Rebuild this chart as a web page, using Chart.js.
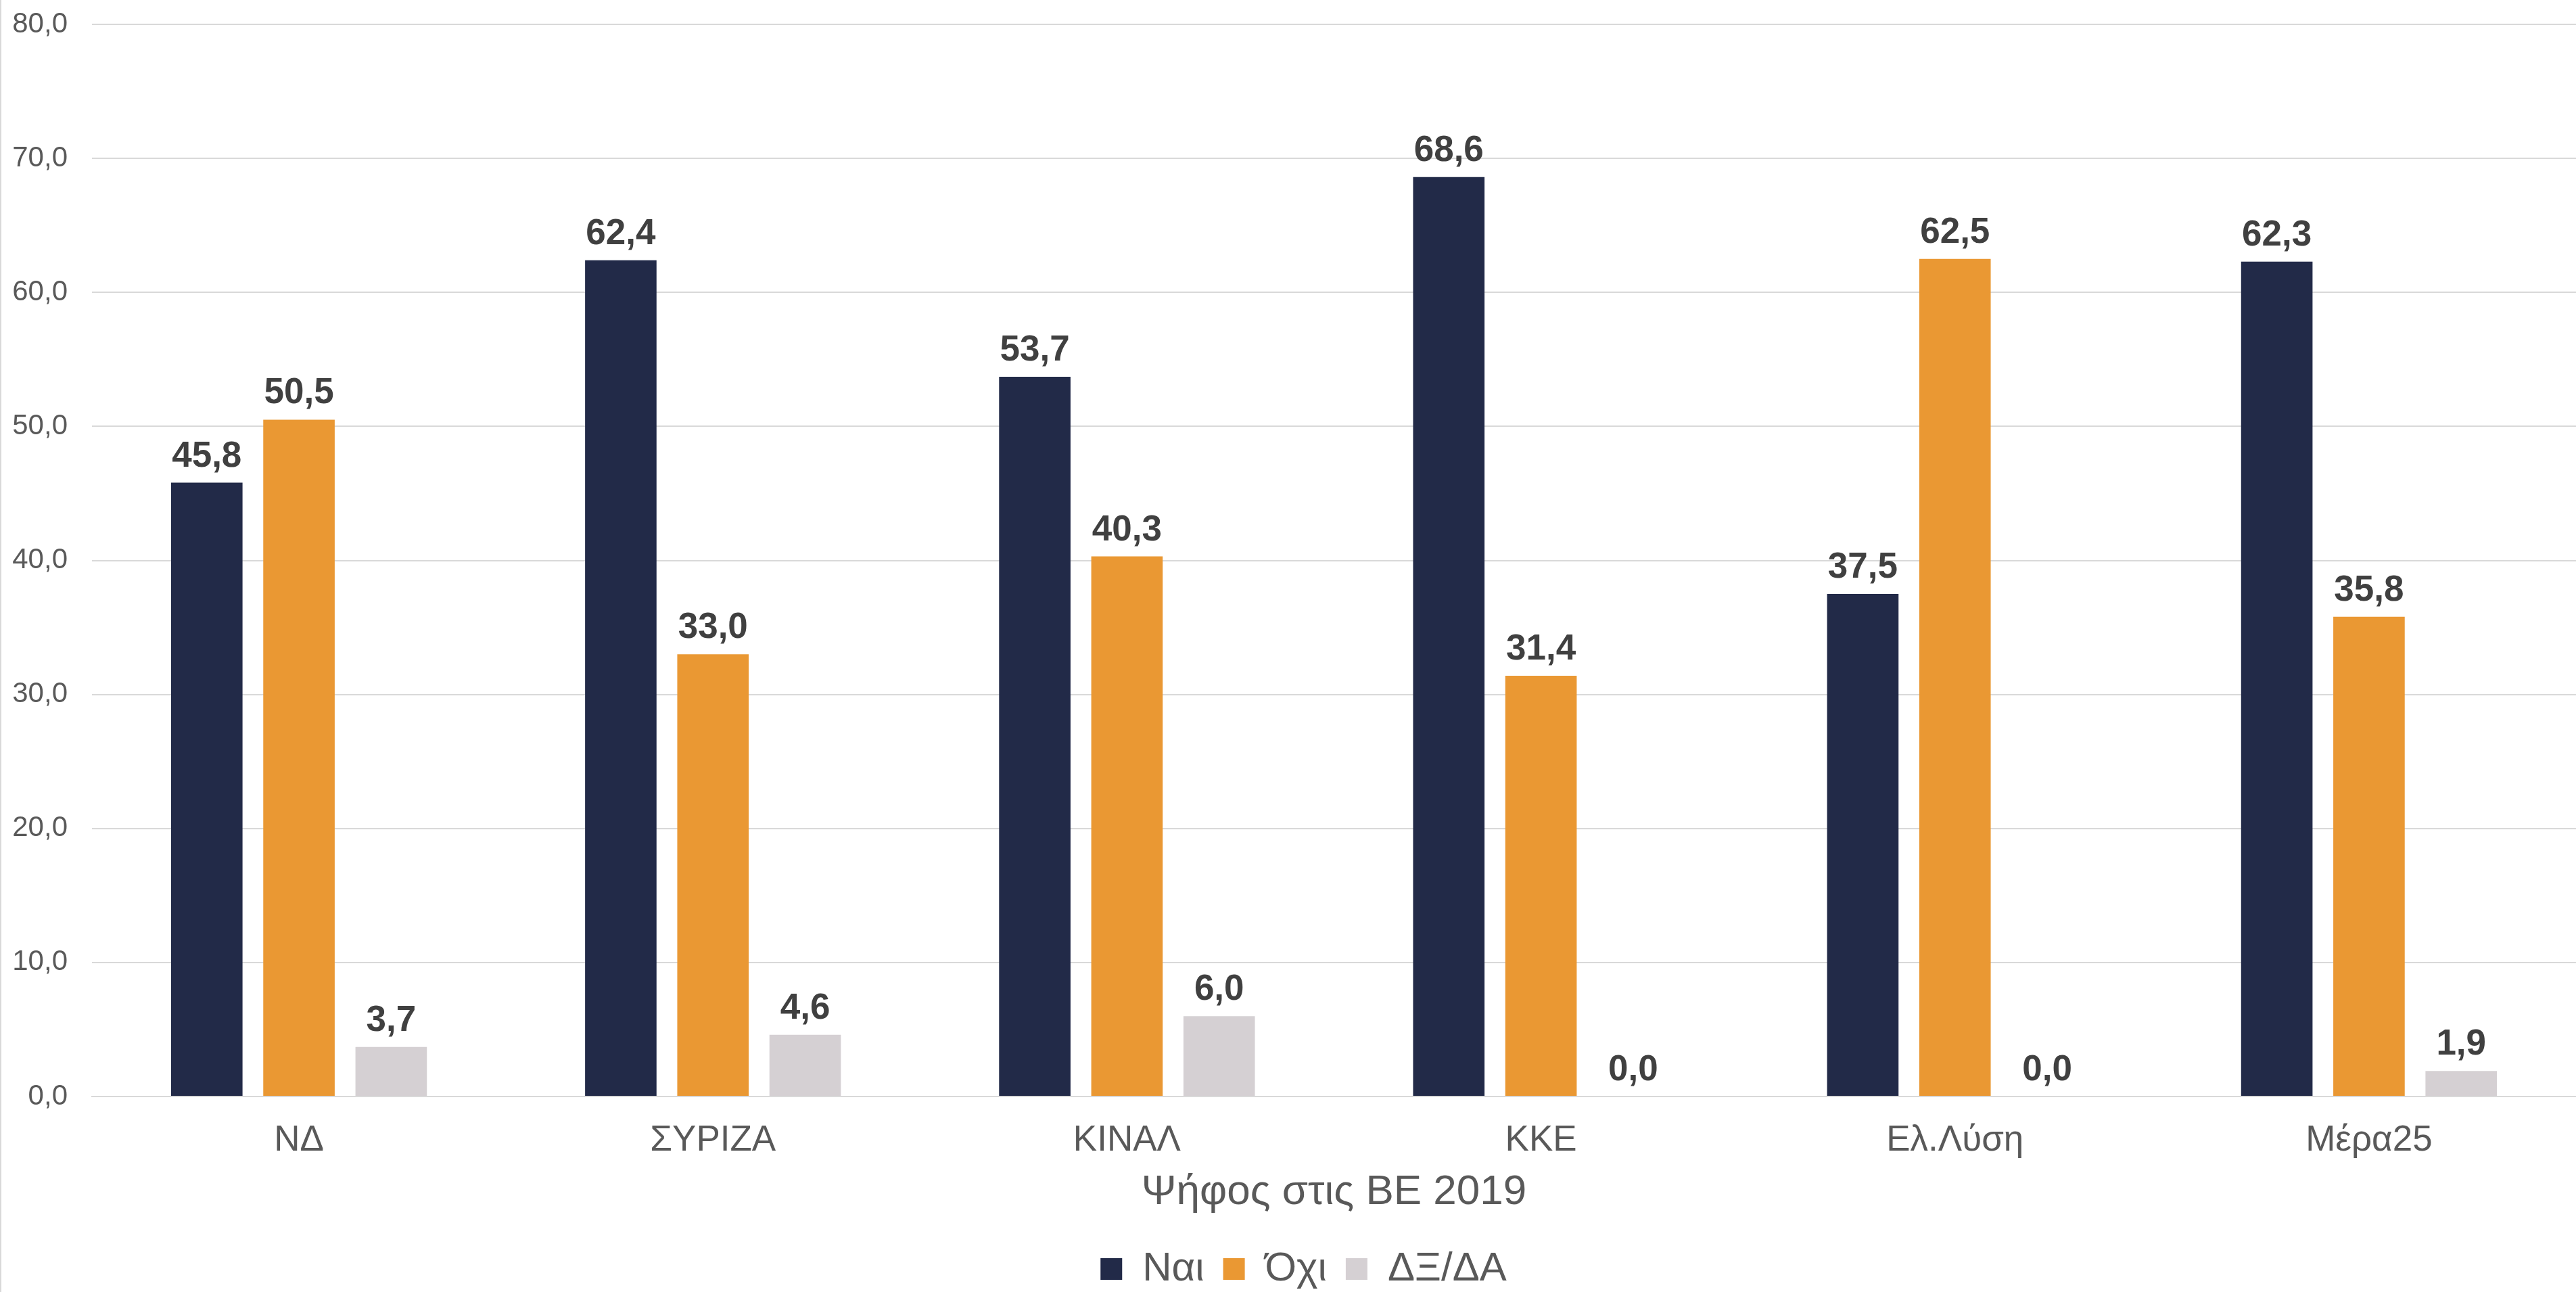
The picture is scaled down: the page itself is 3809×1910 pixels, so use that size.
<!DOCTYPE html>
<html>
<head>
<meta charset="utf-8">
<script src="https://cdn.jsdelivr.net/npm/chart.js@4/dist/chart.umd.min.js"></script>
<style>
  html, body { margin: 0; padding: 0; background: #ffffff; }
  #wrap { position: relative; width: 3809px; height: 1910px; }
  #frame { position: absolute; left: 0; top: 0; width: 2px; height: 1910px; background: #d9d9d9; }
  canvas { display: block; }
</style>
</head>
<body>
<div id="wrap">
  <canvas id="c" width="3809" height="1910"></canvas>
  <div id="frame"></div>
</div>
<script>
const categories = ['ΝΔ', 'ΣΥΡΙΖΑ', 'ΚΙΝΑΛ', 'ΚΚΕ', 'Ελ.Λύση', 'Μέρα25'];
const seriesNames = ['Ναι', 'Όχι', 'ΔΞ/ΔΑ'];
const yesValues = [45.8, 62.4, 53.7, 68.6, 37.5, 62.3];
const noValues = [50.5, 33.0, 40.3, 31.4, 62.5, 35.8];
const dkValues = [3.7, 4.6, 6.0, 0.0, 0.0, 1.9];
const seriesColors = ['#222a48', '#ea9833', '#d5d0d3'];
const axisTitle = 'Ψήφος στις ΒΕ 2019';
const yMin = 0, yMax = 80, yStep = 10;

const fmt = v => Number(v).toFixed(1).replace('.', ',');
const FONT = "'Liberation Sans', Arial, sans-serif";

const valueLabels = {
  id: 'valueLabels',
  afterDatasetsDraw(chart) {
    const ctx = chart.ctx;
    ctx.save();
    ctx.font = 'bold 53px ' + FONT;
    ctx.fillStyle = '#404040';
    ctx.textAlign = 'center';
    ctx.textBaseline = 'alphabetic';
    chart.data.datasets.forEach((ds, di) => {
      const meta = chart.getDatasetMeta(di);
      meta.data.forEach((el, i) => {
        ctx.fillText(fmt(ds.data[i]), el.x, el.y - 24);
      });
    });
    ctx.restore();
  }
};

// nudge the legend so it is centred where the original one is
const legendShift = {
  id: 'legendShift',
  afterLayout(chart) {
    const l = chart.legend;
    if (l) { l.left += 14; l.right += 14; }
  }
};

const allValues = [yesValues, noValues, dkValues];

new Chart(document.getElementById('c'), {
  type: 'bar',
  data: {
    labels: categories,
    datasets: seriesNames.map((name, k) => ({
      label: name,
      data: allValues[k],
      backgroundColor: seriesColors[k],
      borderWidth: 0,
      categoryPercentage: 0.668,
      barPercentage: 0.775
    }))
  },
  options: {
    responsive: false,
    animation: false,
    devicePixelRatio: 1,
    layout: { autoPadding: false, padding: { left: 18, right: 0, top: 36, bottom: -6 } },
    plugins: {
      legend: {
        position: 'bottom',
        labels: {
          boxWidth: 32,
          boxHeight: 32,
          padding: 28,
          color: '#595959',
          font: { family: FONT, size: 60 }
        }
      },
      tooltip: { enabled: false }
    },
    scales: {
      x: {
        afterFit: s => { s.height = 197; },
        grid: { display: false, drawTicks: false },
        border: { display: true, color: '#d9d9d9', width: 2 },
        ticks: {
          color: '#595959',
          padding: 34,
          font: { family: FONT, size: 53 }
        },
        title: {
          display: true,
          text: axisTitle,
          color: '#595959',
          font: { family: FONT, size: 62 },
          padding: { top: 7, bottom: 18 }
        }
      },
      y: {
        min: yMin,
        max: yMax,
        afterFit: s => { s.width = 118; s.paddingTop = 0; s.paddingBottom = 0; },
        grid: { color: '#d9d9d9', lineWidth: 2, drawTicks: false },
        border: { display: false },
        ticks: {
          stepSize: yStep,
          color: '#595959',
          padding: 36,
          font: { family: FONT, size: 42 },
          callback: v => fmt(v)
        }
      }
    }
  },
  plugins: [valueLabels, legendShift]
});
</script>
</body>
</html>
